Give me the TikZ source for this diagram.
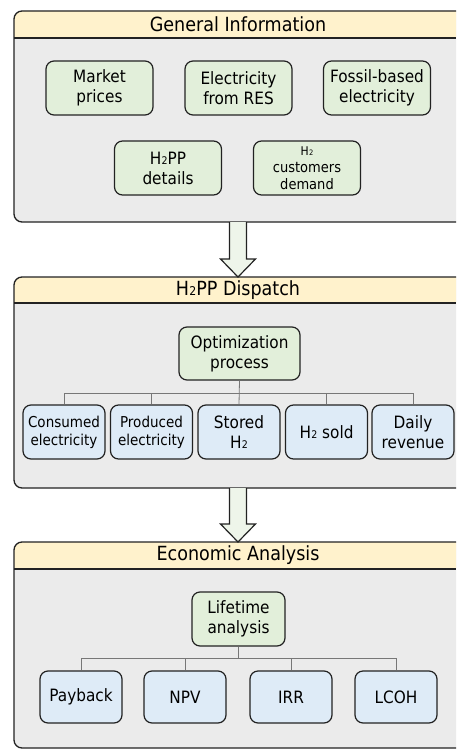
\documentclass[tikz,border=0pt]{standalone}
\usepackage{fontspec}
\setmainfont{DejaVu Sans}[FakeStretch=0.9]
\usetikzlibrary{calc}
\definecolor{hdr}{HTML}{FFF2CC}
\definecolor{pnl}{HTML}{EBEBEB}
\definecolor{grn}{HTML}{E2EFDA}
\definecolor{blu}{HTML}{DEEBF7}
\definecolor{arr}{HTML}{EEF5EA}
\definecolor{ln}{HTML}{222222}
\definecolor{cn}{HTML}{777777}
\newcommand{\Ht}{H\kern0.3pt\scalebox{0.62}{2}}
\newcommand{\drawpanel}[3]{%
  \fill[pnl] (456,#1) -- (22,#1) arc[start angle=270, end angle=180, radius=8] -- (14,#3-8) arc[start angle=180, end angle=90, radius=8] -- (456,#3) -- cycle;
  \fill[hdr] (456,#1) -- (22,#1) arc[start angle=270, end angle=180, radius=8] -- (14,#2) -- (456,#2) -- cycle;
  \draw[ln, line width=1.3pt] (14,#2) -- (456,#2);
  \draw[ln, line width=1.3pt] (456,#1) -- (22,#1) arc[start angle=270, end angle=180, radius=8] -- (14,#3-8) arc[start angle=180, end angle=90, radius=8] -- (456,#3);}
\tikzset{
  hdrtext/.style={font=\fontsize{19.5}{22}\selectfont, text=black, inner sep=0pt},
  box/.style={draw=ln, line width=1.2pt, rounded corners=8pt, align=center,
    inner sep=0pt, text=black, font=\fontsize{17}{20}\selectfont},
  gbox/.style={box, fill=grn},
  bbox/.style={box, fill=blu},
  conn/.style={draw=cn, line width=0.8pt},
  bigarrow/.style={fill=arr, draw=ln, line width=1.2pt, line join=miter}
}
\begin{document}
\begin{tikzpicture}[x=1pt, y=-1pt]
\useasboundingbox (0,0) rectangle (456,749);
% panels
\drawpanel{11}{38}{222}
\drawpanel{277}{303}{488}
\drawpanel{542}{569}{748}
\node[hdrtext] (h1) at (238,24.5) {General Information};
\node[hdrtext] (h2) at (238,290) {\Ht PP Dispatch};
\node[hdrtext] (h3) at (238,555.5) {Economic Analysis};
\coordinate (a1s) at (238,222);
\coordinate (a1e) at (238,277);
\coordinate (a2s) at (238,488);
\coordinate (a2e) at (238,542);
% panel 1
\node[gbox, minimum width=107pt, minimum height=54pt] (mp) at (99.5,88) {Market\\prices};
\node[gbox, minimum width=107pt, minimum height=54pt] (res) at (238.5,88) {Electricity\\from RES};
\node[gbox, minimum width=107pt, minimum height=54pt] (fos) at (377,88) {Fossil-based\\electricity};
\node[gbox, minimum width=107pt, minimum height=54pt] (det) at (168,168) {\Ht PP\\details};
\node[gbox, minimum width=107pt, minimum height=54pt, font=\fontsize{14.5}{17}\selectfont] (dem) at (307,168) {{\fontsize{12}{14}\selectfont\Ht}\\customers\\demand};
% panel 2
\node[gbox, minimum width=121pt, minimum height=53pt] (opt) at (239.5,353.5) {Optimization\\process};
\node[bbox, minimum width=82pt, minimum height=54pt, font=\fontsize{15}{18}\selectfont] (ce) at (64,432) {Consumed\\electricity};
\node[bbox, minimum width=82pt, minimum height=54pt, font=\fontsize{15}{18}\selectfont] (pe) at (151.5,432) {Produced\\electricity};
\node[bbox, minimum width=82pt, minimum height=54pt] (sh) at (239,432) {Stored\\\Ht};
\node[bbox, minimum width=82pt, minimum height=54pt] (hs) at (326.5,432) {\Ht\ sold};
\node[bbox, minimum width=82pt, minimum height=54pt] (dr) at (413,432) {Daily\\revenue};
\coordinate (bus2) at (239,393);
\draw[conn] (opt.south) -- (sh.north);
\foreach \n in {ce,pe,hs,dr} \draw[conn] (bus2) -| (\n.north);
% panel 3
\node[gbox, minimum width=93pt, minimum height=54pt] (life) at (238.5,619) {Lifetime\\analysis};
\node[bbox, minimum width=82pt, minimum height=52pt] (pb) at (81,697) {Payback};
\node[bbox, minimum width=82pt, minimum height=52pt] (npv) at (185,697) {NPV};
\node[bbox, minimum width=82pt, minimum height=52pt] (irr) at (291,697) {IRR};
\node[bbox, minimum width=82pt, minimum height=52pt] (lcoh) at (396,697) {LCOH};
\coordinate (bus3) at (238.5,658);
\draw[conn] (life.south) -- (bus3);
\foreach \n in {pb,npv,irr,lcoh} \draw[conn] (bus3) -| (\n.north);
% arrows
\filldraw[bigarrow] ($(a1s)+(-8.5,0)$) -- ($(a1e)+(-8.5,-18)$) -- ($(a1e)+(-17.5,-18)$) -- (a1e) -- ($(a1e)+(17.5,-18)$) -- ($(a1e)+(8.5,-18)$) -- ($(a1s)+(8.5,0)$);
\filldraw[bigarrow] ($(a2s)+(-8.5,0)$) -- ($(a2e)+(-8.5,-18)$) -- ($(a2e)+(-17.5,-18)$) -- (a2e) -- ($(a2e)+(17.5,-18)$) -- ($(a2e)+(8.5,-18)$) -- ($(a2s)+(8.5,0)$);
\end{tikzpicture}
\end{document}
